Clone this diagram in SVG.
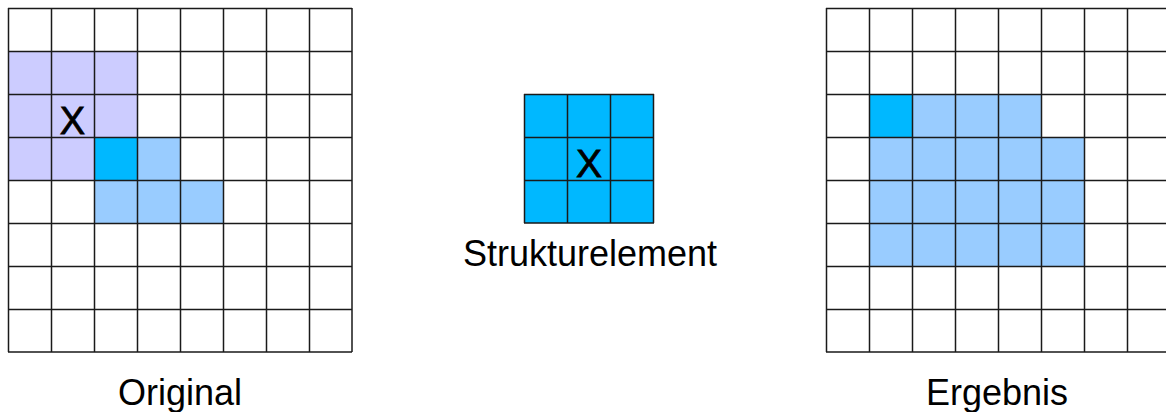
<svg xmlns="http://www.w3.org/2000/svg" width="1166" height="412" viewBox="0 0 1166 412">
<defs>
<style>
.grid{fill:none;stroke:#1a1a1a;stroke-width:1.5}
.lav{fill:#CCCCFF}
.bb{fill:#00B8FF}
.lb{fill:#99CCFF}
.lbl{font-family:"Liberation Sans",Arial,sans-serif;fill:#000;text-anchor:middle}
.x{stroke:#000;stroke-width:0.8}
</style>
</defs>
<rect width="1166" height="412" fill="#fff"/>
<g id="original">
<rect class="lav" x="8" y="51" width="129" height="129"/>
<rect class="bb" x="94" y="137" width="43" height="43"/>
<rect class="lb" x="137" y="137" width="43" height="43"/>
<rect class="lb" x="94" y="180" width="129" height="43"/>
<path class="grid" d="M8 8.5H352M8 51.5H352M8 94.5H352M8 137.5H352M8 180.5H352M8 223.5H352M8 266.5H352M8 309.5H352M8 352H352M8.5 8V352M51.5 8V352M94.5 8V352M137.5 8V352M180.5 8V352M223.5 8V352M266.5 8V352M309.5 8V352M352 8V352"/>
<text class="lbl x" x="72.5" y="134" font-size="38">X</text>
<text class="lbl" x="180" y="405" font-size="36">Original</text>
</g>
<g id="strukturelement">
<rect class="bb" x="524" y="94" width="130" height="129"/>
<path class="grid" d="M524 94.5H654M524 137.5H654M524 180.5H654M524 223H654M524.5 94V223M567.5 94V223M610.5 94V223M653.5 94V223"/>
<text class="lbl x" x="589" y="177" font-size="39">X</text>
<text class="lbl" x="590" y="266" font-size="36">Strukturelement</text>
</g>
<g id="ergebnis">
<rect class="bb" x="869" y="94" width="43" height="43"/>
<rect class="lb" x="912" y="94" width="129" height="43"/>
<rect class="lb" x="869" y="137" width="215" height="129"/>
<path class="grid" d="M826 8.5H1166M826 51.5H1166M826 94.5H1166M826 137.5H1166M826 180.5H1166M826 223.5H1166M826 266.5H1166M826 309.5H1166M826 352H1166M826.5 8V352M869.5 8V352M912.5 8V352M955.5 8V352M998.5 8V352M1041.5 8V352M1084.5 8V352M1127.5 8V352"/>
<text class="lbl" x="997" y="405" font-size="36">Ergebnis</text>
</g>
<g id="connectors"/>
</svg>
